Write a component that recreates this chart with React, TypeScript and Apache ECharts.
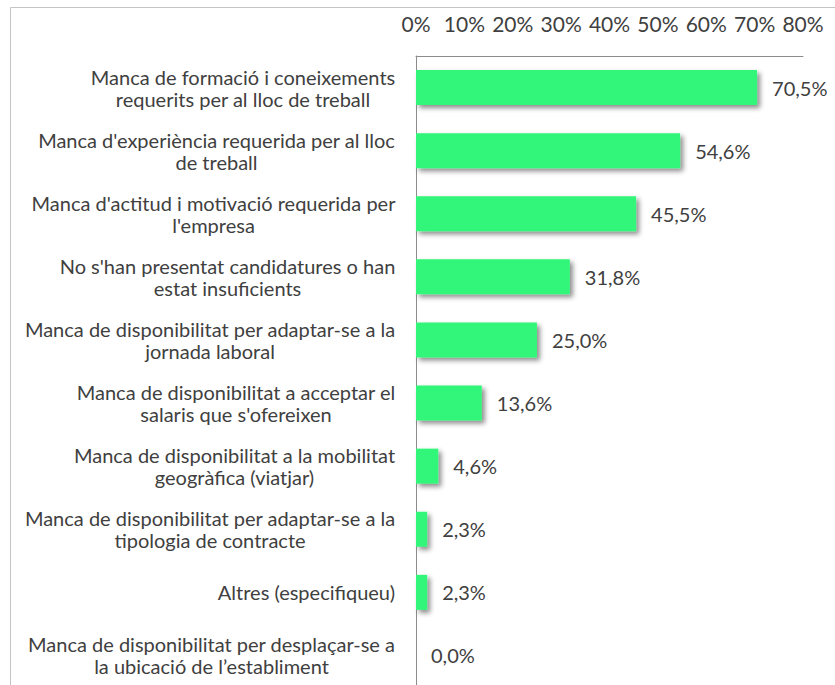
import React, { useEffect, useRef } from "react";
import * as echarts from "echarts";

const categories: string[] = [
  "Manca de formació i coneixements\nrequerits per al lloc de treball",
  "Manca d'experiència requerida per al lloc\nde treball",
  "Manca d'actitud i motivació requerida per\nl'empresa",
  "No s'han presentat candidatures o han\nestat insuficients",
  "Manca de disponibilitat per adaptar-se a la\njornada laboral",
  "Manca de disponibilitat a acceptar el\nsalaris que s'ofereixen",
  "Manca de disponibilitat a la mobilitat\ngeogràfica (viatjar)",
  "Manca de disponibilitat per adaptar-se a la\ntipologia de contracte",
  "Altres (especifiqueu)",
  "Manca de disponibilitat per desplaçar-se a\nla ubicació de l’establiment",
];
const values: number[] = [70.5, 54.6, 45.5, 31.8, 25.0, 13.6, 4.6, 2.3, 2.3, 0.0];
const xMin = 0;
const xMax = 80;
const xStep = 10;

const FONT = "Lato";
const FS = 20;
const TEXT = "#404040";

export default function App() {
  const ref = useRef<HTMLDivElement>(null);
  useEffect(() => {
    if (!ref.current) return;
    const chart = echarts.init(ref.current, undefined, { renderer: "svg" });
    const ctx = document.createElement("canvas").getContext("2d")!;
    ctx.font = `${FS}px ${FONT}`;
    const rich: Record<string, any> = {};
    categories.forEach((c, i) => {
      const w = Math.max(...c.split("\n").map((l) => ctx.measureText(l).width));
      rich["c" + i] = {
        width: Math.ceil(w) + 1,
        align: "center",
        fontFamily: FONT,
        fontSize: FS,
        color: TEXT,
        lineHeight: 22,
      };
    });
    chart.setOption({
      animation: false,
      graphic: [
        {
          type: "rect",
          shape: { x: 10.5, y: 7.5, width: 1000, height: 1000 },
          style: { fill: "none", stroke: "#c4c4c4", lineWidth: 1 },
          silent: true,
        },
      ],
      grid: { left: 416, right: 32, top: 56, bottom: 33, containLabel: false },
      xAxis: {
        type: "value",
        position: "top",
        min: xMin,
        max: xMax,
        interval: xStep,
        axisLine: { show: true, lineStyle: { color: "#8c8c8c", width: 1 } },
        axisTick: { show: false },
        splitLine: { show: false },
        axisLabel: {
          margin: 22,
          fontFamily: FONT,
          fontSize: 21,
          color: TEXT,
          formatter: (v: number) => `${v}%`,
        },
      },
      yAxis: {
        type: "category",
        inverse: true,
        data: categories,
        axisLine: { show: true, lineStyle: { color: "#8c8c8c", width: 1 } },
        axisTick: { show: false },
        axisLabel: {
          margin: 20,
          align: "right",
          formatter: (v: string, idx: number) =>
            v.split("\n").map((l) => `{c${idx}|${l}}`).join("\n"),
          rich,
        },
      },
      series: [
        {
          type: "bar",
          data: values,
          barWidth: 35,
          itemStyle: {
            color: "#33F679",
            shadowColor: "rgba(0,0,0,0.45)",
            shadowBlur: 5,
            shadowOffsetX: 3,
            shadowOffsetY: 3,
          },
          label: {
            show: true,
            position: "right",
            distance: 15,
            fontFamily: FONT,
            fontSize: FS,
            color: TEXT,
            formatter: (p: any) => p.value.toFixed(1).replace(".", ",") + "%",
          },
        },
      ],
    });
    return () => chart.dispose();
  }, []);
  return (
    <div style={{ position: "fixed", left: 0, top: 0, width: 835, height: 685, overflow: "hidden", background: "#fff" }}>
      <div ref={ref} style={{ width: 835, height: 720 }} />
    </div>
  );
}
